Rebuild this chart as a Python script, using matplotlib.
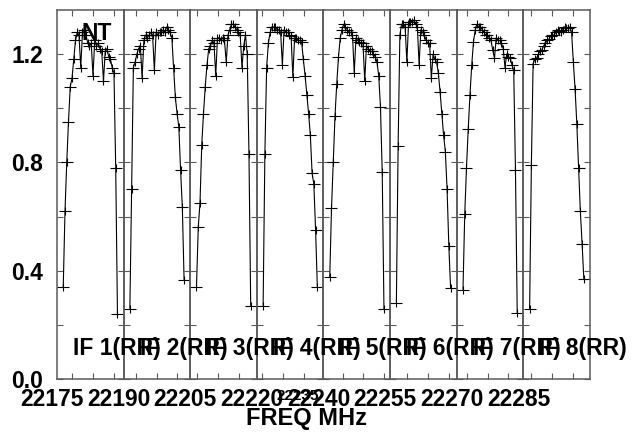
import numpy as np
import matplotlib
matplotlib.use("Agg")
import matplotlib.pyplot as plt
from matplotlib.path import Path
from matplotlib.transforms import offset_copy

plt.rcParams['font.family'] = ['Liberation Sans', 'DejaVu Sans']
plt.rcParams['font.weight'] = 'bold'

# IF start frequencies (MHz), each IF is 16 MHz wide
if_start = [22171.4, 22187.1, 22203.3, 22218.8, 22235.4, 22250.9, 22267.6, 22283.1]
if_width = 16.0
chan0 = 1.5      # MHz offset of first channel
chan_bw = 0.42   # MHz per channel
if_names = ["IF 1(RR)", "IF 2(RR)", "IF 3(RR)", "IF 4(RR)",
            "IF 5(RR)", "IF 6(RR)", "IF 7(RR)", "IF 8(RR)"]

amp1 = [0.34, 0.62, 0.80, 0.95, 1.08, 1.11, 1.18, 1.25, 1.28, 1.27, 1.15, 1.28, 1.29, 1.27, 1.24, 1.23,
        1.24, 1.12, 1.25, 1.23, 1.24, 1.22, 1.21, 1.10, 1.21, 1.22, 1.19, 1.18, 1.15, 1.13, 0.78, 0.24]
amp2 = [0.26, 0.70, 1.15, 1.17, 1.20, 1.22, 1.23, 1.11, 1.25, 1.27, 1.26, 1.27, 1.28, 1.27, 1.14, 1.28,
        1.27, 1.28, 1.28, 1.29, 1.28, 1.30, 1.29, 1.28, 1.26, 1.15, 1.04, 0.98, 0.93, 0.77, 0.635, 0.365]
amp3 = [0.34, 0.56, 0.65, 0.865, 0.98, 1.08, 1.16, 1.22, 1.23, 1.25, 1.24, 1.12, 1.26, 1.26, 1.25, 1.26,
        1.25, 1.17, 1.27, 1.29, 1.31, 1.31, 1.30, 1.29, 1.28, 1.27, 1.15, 1.23, 1.27, 1.20, 0.83, 0.27]
amp4 = [0.27, 0.83, 1.15, 1.24, 1.28, 1.30, 1.30, 1.30, 1.29, 1.29, 1.28, 1.16, 1.29, 1.28, 1.28, 1.27,
        1.265, 1.115, 1.26, 1.26, 1.25, 1.25, 1.245, 1.18, 1.12, 1.05, 0.98, 0.90, 0.76, 0.72, 0.55, 0.34]
amp5 = [0.376, 0.63, 0.80, 0.97, 1.09, 1.19, 1.26, 1.29, 1.31, 1.30, 1.29, 1.28, 1.28, 1.27, 1.13, 1.26,
        1.25, 1.245, 1.24, 1.24, 1.10, 1.23, 1.22, 1.21, 1.21, 1.20, 1.19, 1.17, 1.12, 1.005, 0.765, 0.26]
amp6 = [0.28, 0.86, 1.27, 1.31, 1.31, 1.30, 1.17, 1.32, 1.32, 1.32, 1.325, 1.31, 1.30, 1.16, 1.29, 1.28,
        1.27, 1.25, 1.24, 1.24, 1.11, 1.20, 1.18, 1.17, 1.13, 1.06, 0.98, 0.90, 0.84, 0.70, 0.49, 0.336]
amp7 = [0.33, 0.61, 0.78, 0.925, 1.05, 1.16, 1.245, 1.29, 1.31, 1.30, 1.30, 1.29, 1.28, 1.27, 1.27, 1.26,
        1.25, 1.215, 1.185, 1.26, 1.25, 1.25, 1.24, 1.22, 1.15, 1.20, 1.19, 1.185, 1.16, 1.14, 0.77, 0.245]
amp8 = [0.26, 0.79, 1.165, 1.18, 1.185, 1.20, 1.21, 1.215, 1.23, 1.24, 1.25, 1.255, 1.265, 1.27, 1.27, 1.28,
        1.29, 1.285, 1.28, 1.29, 1.30, 1.295, 1.295, 1.30, 1.28, 1.17, 1.07, 0.94, 0.78, 0.62, 0.50, 0.37]
amps = [amp1, amp2, amp3, amp4, amp5, amp6, amp7, amp8]

# wide, flat plus sign used by the plot
plus = Path([(-6, 0), (6, 0), (0, -4), (0, 4)],
            [Path.MOVETO, Path.LINETO, Path.MOVETO, Path.LINETO])

W, H = 634, 432
fig, axes = plt.subplots(1, 8, sharey=True, figsize=(W / 100, H / 100), dpi=100)
fig.subplots_adjust(left=57 / W, right=590 / W, top=1 - 10 / H, bottom=1 - 379 / H, wspace=0)

frame = '#5a5a5a'
fs = 16.5
for k, ax in enumerate(axes):
    ax.set_facecolor('none')
    f0 = if_start[k]
    freq = f0 + chan0 + chan_bw * np.arange(len(amps[k]))
    ax.plot(freq, amps[k], color='black', lw=0.8, marker=plus, ms=8.6,
            mec='black', mew=0.8, mfc='none')
    ax.set_xlim(f0, f0 + if_width)
    ax.set_ylim(0, 1.3626)
    ticks = np.arange(np.ceil(f0 / 5) * 5, f0 + if_width, 5)
    ax.set_xticks(ticks)
    ax.set_xticklabels([])
    ax.tick_params(direction='in', length=4.3, width=0.8, color=frame,
                   top=True, right=True, labelbottom=False)
    for s in ax.spines.values():
        s.set_color(frame)
        s.set_linewidth(1.1)

    # first tick label near the IF's left edge, and the IF name
    first = np.ceil(f0 / 5) * 5
    tr = offset_copy(ax.transAxes, fig=fig, x=-5, y=-9, units='dots')
    fig.text(0, 0, "%d" % first, transform=tr, ha='center', va='top',
             fontsize=fs, fontweight='bold')
    tr = offset_copy(ax.transAxes, fig=fig, x=16, y=30, units='dots')
    fig.text(0, 0, if_names[k], transform=tr, ha='left', va='center',
             fontsize=fs, fontweight='bold')

# squeezed extra label between IF 4 and IF 5
tr = offset_copy(axes[4].transAxes, fig=fig, x=-26, y=-10, units='dots')
fig.text(0, 0, "22235", transform=tr, ha='center', va='top', fontsize=11, fontweight='bold')

axes[0].set_yticks([0.0, 0.2, 0.4, 0.6, 0.8, 1.0, 1.2])
axes[0].set_yticklabels(['0.0', '', '0.4', '', '0.8', '', '1.2'])
axes[0].tick_params(axis='y', labelleft=True, pad=10, labelsize=fs)
for lab in axes[0].get_yticklabels():
    lab.set_fontweight('bold')

axes[0].text(0.6, 0.936, "NT", transform=axes[0].transAxes, ha='center', va='center',
             fontsize=fs, fontweight='bold')

fig.text(306 / W, 1 - 419 / H, "FREQ MHz", ha='center', va='center',
         fontsize=17, fontweight='bold')

fig.savefig("out.png", dpi=100)
